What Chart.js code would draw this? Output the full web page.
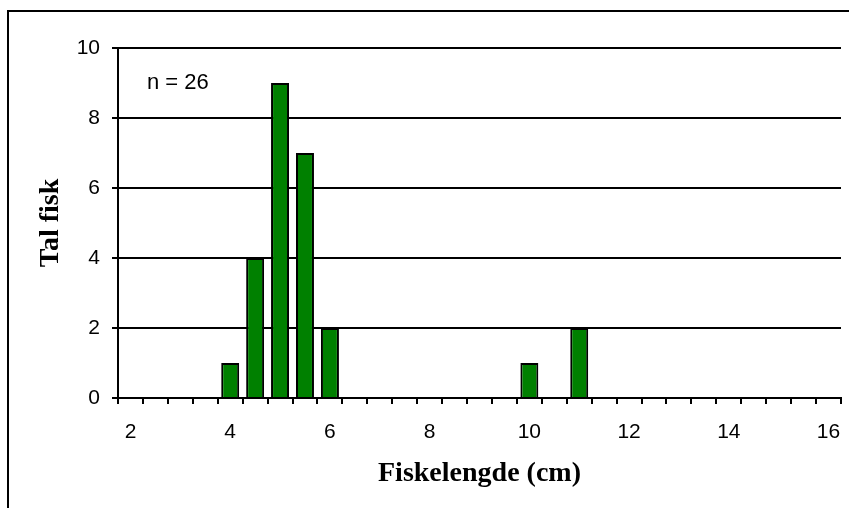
<!DOCTYPE html>
<html>
<head>
<meta charset="utf-8">
<script src="https://cdn.jsdelivr.net/npm/chart.js@4"></script>
<style>
  html, body { margin: 0; padding: 0; background: #fff; }
  #wrap { width: 849px; height: 508px; position: relative; }
</style>
</head>
<body>
<div id="wrap"><canvas id="grafica"></canvas></div>
<script>
// lengder (cm), ein kategori per halve cm
const lengths = ['2', '2.5', '3', '3.5', '4', '4.5', '5', '5.5', '6', '6.5', '7', '7.5', '8', '8.5', '9', '9.5',
                 '10', '10.5', '11', '11.5', '12', '12.5', '13', '13.5', '14', '14.5', '15', '15.5', '16'];
// tal fisk per lengd
const fishCount = [0, 0, 0, 0, 1, 4, 9, 7, 2, 0, 0, 0, 0, 0, 0, 0,
                   1, 0, 2, 0, 0, 0, 0, 0, 0, 0, 0, 0, 0];
const xTickLabels = ['2', '4', '6', '8', '10', '12', '14', '16'];
const yTicks = [0, 2, 4, 6, 8, 10];
const noteText = 'n = 26';

// ramme rundt heile diagrammet + n-tekst
const extras = {
  id: 'extras',
  beforeDraw(chart) {
    const ctx = chart.ctx;
    ctx.save();
    ctx.fillStyle = '#fff';
    ctx.fillRect(0, 0, chart.width, chart.height);
    ctx.strokeStyle = '#000';
    ctx.lineWidth = 2;
    ctx.strokeRect(8, 11, chart.width + 10, chart.height + 10);
    ctx.restore();
  },
  afterDatasetsDraw(chart) {
    const ctx = chart.ctx;
    const a = chart.chartArea;
    ctx.save();
    ctx.fillStyle = '#000';
    ctx.font = '22px "Liberation Sans", Arial, sans-serif';
    ctx.textBaseline = 'middle';
    ctx.textAlign = 'left';
    ctx.fillText(noteText, a.left + 29, a.top + 35);
    ctx.restore();
  }
};

const graph = document.querySelector('#grafica');

new Chart(graph, {
  type: 'bar',
  data: {
    labels: lengths,
    datasets: [{
      label: 'Tal fisk',
      data: fishCount,
      backgroundColor: '#008000',
      borderColor: '#000',
      borderWidth: 2,
      borderSkipped: 'start',
      categoryPercentage: 1,
      barPercentage: 0.72
    }]
  },
  options: {
    responsive: true,
    maintainAspectRatio: false,
    animation: false,
    events: [],
    layout: { padding: { top: 48, right: 8, bottom: 0, left: 0 } },
    plugins: { legend: { display: false }, tooltip: { enabled: false } },
    scales: {
      x: {
        offset: true,
        grid: { display: true, offset: true, drawOnChartArea: false, color: '#000', lineWidth: 2, tickLength: 6 },
        border: { display: true, color: '#000', width: 2 },
        ticks: {
          autoSkip: false, maxRotation: 0, minRotation: 0, padding: 16, color: '#000',
          font: { family: '"Liberation Sans", Arial, sans-serif', size: 21 },
          callback: function (v, i) {
            const l = this.getLabelForValue(v);
            return xTickLabels.includes(l) ? l : '';
          }
        },
        title: {
          display: true, text: 'Fiskelengde (cm)', color: '#000',
          font: { family: '"Liberation Serif", "Times New Roman", serif', size: 28, weight: 'bold' },
          padding: { top: 0, bottom: 17 }
        },
        afterFit(scale) {
          scale.height = 110;
          scale.paddingLeft = 0;
          scale.paddingRight = 0;
        }
      },
      y: {
        min: 0, max: 10,
        afterBuildTicks(scale) { scale.ticks = yTicks.map(v => ({ value: v })); },
        grid: { color: '#000', lineWidth: 2, tickLength: 6 },
        border: { display: true, color: '#000', width: 2 },
        ticks: {
          padding: 12, color: '#000',
          font: { family: '"Liberation Sans", Arial, sans-serif', size: 21 }
        },
        title: {
          display: true, text: 'Tal fisk', color: '#000',
          font: { family: '"Liberation Serif", "Times New Roman", serif', size: 28, weight: 'bold' },
          padding: { top: 34, bottom: 0 }
        },
        afterFit(scale) { scale.width = 118; }
      }
    }
  },
  plugins: [extras]
});
</script>
</body>
</html>
